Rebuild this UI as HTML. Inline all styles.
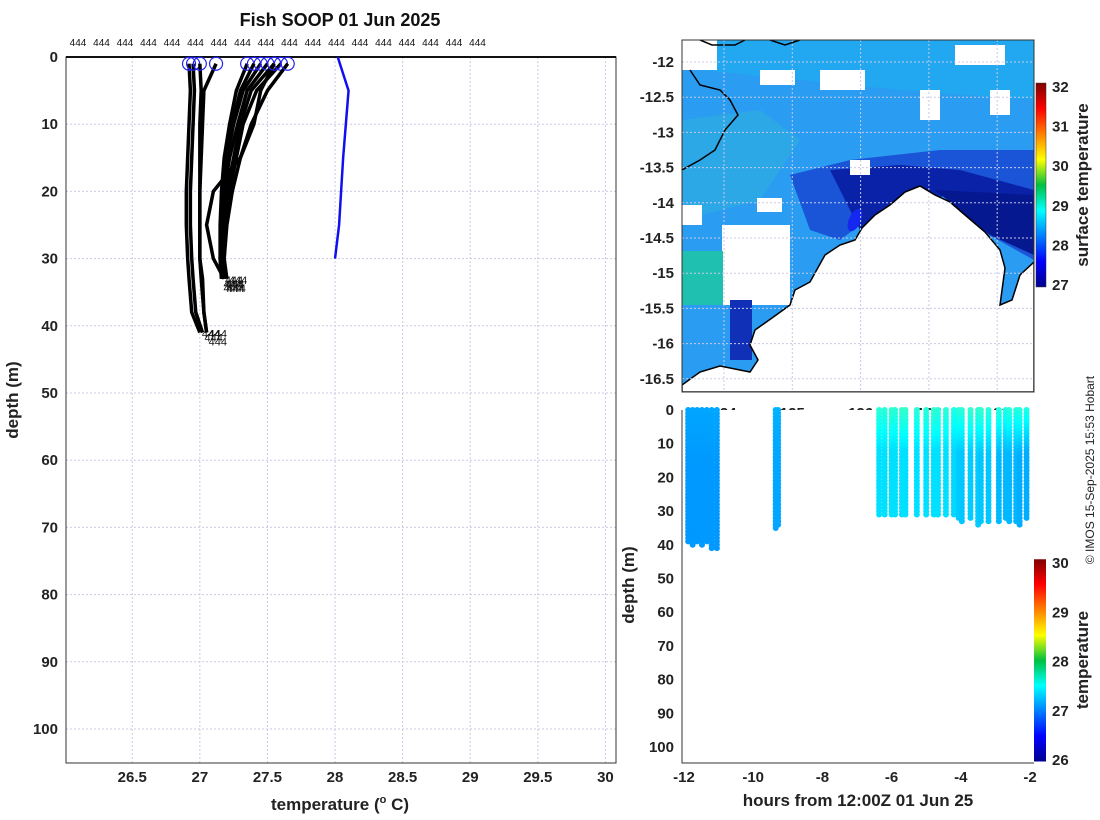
<!DOCTYPE html>
<html><head><meta charset="utf-8"><style>
body{margin:0;background:#fff;}
svg{font-family:"Liberation Sans","DejaVu Sans",sans-serif;display:block}
.tk{font-size:15px;font-weight:bold;fill:#222}
.lb{font-size:17px;font-weight:bold;fill:#222}
</style></head><body>
<svg id="s" width="1100" height="820" xmlns="http://www.w3.org/2000/svg">
<defs>
<linearGradient id="jet" x1="0" y1="1" x2="0" y2="0">
<stop offset="0" stop-color="#00008f"/><stop offset="0.125" stop-color="#0000ff"/><stop offset="0.375" stop-color="#00ffff"/><stop offset="0.5" stop-color="#00c040"/><stop offset="0.625" stop-color="#ffff00"/><stop offset="0.875" stop-color="#ff0000"/><stop offset="1" stop-color="#800000"/>
</linearGradient>
<clipPath id="mapclip"><rect x="682" y="40" width="352" height="352"/></clipPath>
</defs>
<text x="340" y="26" text-anchor="middle" font-size="18" font-weight="bold" fill="#111">Fish SOOP 01 Jun 2025</text>
<g id="left"></g>
<g id="map"></g>
<g id="sect"></g>
<text x="1094" y="470" transform="rotate(-90 1094 470)" text-anchor="middle" font-size="12" fill="#222">© IMOS 15-Sep-2025 15:53 Hobart</text>
</svg>
<script>
const NS="http://www.w3.org/2000/svg";
function mk(p,t,a,txt){const e=document.createElementNS(NS,t);for(const k in a)e.setAttribute(k,a[k]);if(txt!==undefined)e.textContent=txt;p.appendChild(e);return e;}
// ---- data: left profile plot ----
const xTicks=[26.5,27,27.5,28,28.5,29,29.5,30];
const yTicks=[0,10,20,30,40,50,60,70,80,90,100];
const profDepths=[1,5,10,15,20,25,30,33,38,41];
const profTemps=[
[26.92,26.93,26.92,26.91,26.90,26.90,26.91,26.92,26.94,27.00],
[26.95,26.96,26.95,26.94,26.93,26.93,26.94,26.95,26.97,27.02],
[27.00,27.01,27.00,27.00,27.00,27.00,27.00,27.01,27.03,27.05],
[27.12,27.03,27.02,27.01,27.00,27.00,27.00,27.02,27.03,27.05],
[27.35,27.27,27.22,27.18,27.16,27.15,27.15,27.16],
[27.45,27.32,27.25,27.2,27.17,27.16,27.15,27.16],
[27.5,27.35,27.28,27.22,27.18,27.17,27.16,27.17],
[27.55,27.38,27.3,27.25,27.2,27.18,27.17,27.18],
[27.6,27.42,27.32,27.27,27.22,27.19,27.18,27.19],
[27.65,27.5,27.38,27.3,27.24,27.2,27.18,27.2],
[27.4,27.3,27.24,27.2,27.18,27.17,27.16,27.17],
[27.55,27.45,27.4,27.3,27.1,27.05,27.1,27.18]
];
const blueTemps=[28.02,28.1,28.06,28.03,28.0];
const blueDepths=[0,5,15,25,30];
// ---- data: section plot ----
const castHours=[-11.88,-11.75,-11.62,-11.48,-11.34,-11.2,-11.05,-9.35,-9.28,-6.36,-6.2,-6.0,-5.9,-5.7,-5.6,-5.27,-5.0,-4.78,-4.66,-4.43,-4.2,-4.06,-3.97,-3.72,-3.5,-3.42,-3.2,-2.9,-2.7,-2.6,-2.4,-2.3,-2.1];
const castDepths=[39,40,39,40,39,41,41,35,34,31,31,31,31,31,31,31,31,31,31,31,31,32,33,32,34,33,33,33,32,33,33,34,32];
const castSurf=[27.15,27.15,27.15,27.15,27.15,27.15,27.15,27.2,27.2,27.65,27.65,27.7,27.65,27.7,27.7,27.65,27.65,27.7,27.65,27.65,27.6,27.65,27.65,27.7,27.65,27.7,27.65,27.65,27.6,27.65,27.6,27.65,27.6];
const castBot=[27.1,27.1,27.1,27.1,27.1,27.1,27.1,27.15,27.15,27.38,27.38,27.38,27.38,27.38,27.38,27.38,27.38,27.38,27.38,27.38,27.35,27.3,27.28,27.3,27.3,27.28,27.28,27.22,27.22,27.22,27.22,27.18,27.18];
const sHours=[-12,-10,-8,-6,-4,-2];
const latTicks=[-12,-12.5,-13,-13.5,-14,-14.5,-15,-15.5,-16,-16.5];
const lonTicks=[124,125,126,127,128];
const sstTicks=[27,28,29,30,31,32];
const secTicks=[26,27,28,29,30];

function jet(v){v=Math.max(0,Math.min(1,v));const f=(a,b)=>Math.max(0,Math.min(1,Math.min(4*v-a,-4*v+b)));
const r=f(1.5,4.5),g=f(0.5,3.5),b=f(-0.5,2.5);return `rgb(${Math.round(r*255)},${Math.round(g*255)},${Math.round(b*255)})`;}

// left axes
const L=document.getElementById('left');
const X=t=>66+(t-26.01)*(534/3.95), Y=d=>57+d*6.72;
xTicks.forEach(t=>{const l=mk(L,'line',{x1:X(t),x2:X(t),y1:57,y2:763,stroke:'#c9c9e6','stroke-dasharray':'2,2'});
const tx=mk(L,'text',{x:X(t),y:782,'text-anchor':'middle',class:'tk'},String(t));});
yTicks.forEach(d=>{mk(L,'line',{x1:66,x2:616,y1:Y(d),y2:Y(d),stroke:'#c9c9e6','stroke-dasharray':'2,2'});
const tx=mk(L,'text',{x:58,y:Y(d)+5,'text-anchor':'end',class:'tk'},String(d));});
mk(L,'rect',{x:66,y:57,width:550,height:706,fill:'none',stroke:'#333','stroke-width':1});
mk(L,'line',{x1:66,x2:616,y1:57,y2:57,stroke:'#111','stroke-width':2});
for(let i=0;i<18;i++){const t=mk(L,'text',{x:78+i*23.5,y:46,'font-size':10,'text-anchor':'middle',fill:'#111'},'444');}
profTemps.forEach((arr,i)=>{const pts=arr.map((t,j)=>X(t)+','+Y(profDepths[j])).join(' ');
const p=mk(L,'polyline',{points:pts,fill:'none',stroke:'#000','stroke-width':3.5,'stroke-linejoin':'round'});
const c=mk(L,'circle',{cx:X(arr[0]),cy:Y(1),r:6.5,fill:'none',stroke:'#2222ee','stroke-width':1.2});
const n=arr.length-1;const lt=mk(L,'text',{x:X(arr[n])+2,y:Y(profDepths[n])+5+(i%3)*4,'font-size':11,fill:'#111'},'444');});
const bl=mk(L,'polyline',{points:blueTemps.map((t,j)=>X(t)+','+Y(blueDepths[j])).join(' '),fill:'none',stroke:'#1010ee','stroke-width':2.5});
const xt=mk(L,'text',{x:340,y:810,'text-anchor':'middle',class:'lb'});
xt.innerHTML='temperature (<tspan font-size="11" dy="-7">o</tspan><tspan dy="7"> C)</tspan>';
const yt=mk(L,'text',{x:18,y:400,transform:'rotate(-90 18 400)','text-anchor':'middle',class:'lb'},'depth (m)');

// map
const M=document.getElementById('map');
const lonX=l=>724+(l-124)*68.3, latY=a=>62+(-12-a)*70.4;
const g=mk(M,'g',{'clip-path':'url(#mapclip)'});
mk(g,'rect',{x:682,y:40,width:352,height:352,fill:'#2a9cf2'});
mk(g,'polygon',{points:'682,40 1034,40 1034,100 900,90 800,80 700,70',fill:'#22a8f0'});
mk(g,'polygon',{points:'682,120 760,110 800,140 760,200 682,220',fill:'#30b0e0',opacity:0.6});
mk(g,'polygon',{points:'790,175 850,160 940,150 1034,150 1034,260 980,230 940,190 880,210 840,240 810,230',fill:'#1a55d8'});
mk(g,'polygon',{points:'830,170 900,165 960,170 1034,190 1034,255 985,230 950,195 900,205 860,230 845,200',fill:'#0a22a8'});
mk(g,'polygon',{points:'935,190 1034,195 1034,255 990,235',fill:'#061890'});
mk(g,'rect',{x:722,y:225,width:68,height:80,fill:'#fff'});
mk(g,'polygon',{points:'682,251 723,251 723,305 682,305',fill:'#20c0b0'});
mk(g,'polygon',{points:'730,300 752,300 752,360 730,360',fill:'#1030b8'});
[[757,198,25,14],[820,70,45,20],[760,70,35,15],[920,90,20,30],[990,90,20,25],[682,40,35,30],[955,45,50,20],[850,160,20,15],[682,205,20,20]].forEach(r=>mk(g,'rect',{x:r[0],y:r[1],width:r[2],height:r[3],fill:'#fff'}));
const land='682,392 682,385 700,372 720,366 750,372 758,360 750,345 755,330 772,318 790,305 795,290 810,282 825,255 840,245 855,240 862,228 875,215 890,205 905,192 920,186 935,195 950,202 965,215 985,232 1000,250 1005,268 1000,305 1012,300 1020,275 1034,262 1034,392';
mk(g,'polygon',{points:land,fill:'#fff',stroke:'#000','stroke-width':1.5});
mk(g,'path',{d:'M682,170 L700,160 L715,150 L725,130 L738,115 L730,100 L720,90 L700,85 L690,70',fill:'none',stroke:'#000','stroke-width':1.5});
mk(g,'path',{d:'M700,40 L712,45 L735,45 L745,40 M770,40 L785,45 L800,40',fill:'none',stroke:'#000','stroke-width':1.5});
mk(g,'ellipse',{cx:855,cy:220,rx:6,ry:12,fill:'#1428f0',transform:'rotate(25 855 220)'});
lonTicks.forEach(l=>{mk(M,'line',{x1:lonX(l),x2:lonX(l),y1:40,y2:392,stroke:'#c9c9e6','stroke-dasharray':'2,2'});
const t=mk(M,'text',{x:lonX(l),y:418,'text-anchor':'middle',class:'tk'},String(l));});
latTicks.forEach(a=>{mk(M,'line',{x1:682,x2:1034,y1:latY(a),y2:latY(a),stroke:'#c9c9e6','stroke-dasharray':'2,2'});
const t=mk(M,'text',{x:674,y:latY(a)+5,'text-anchor':'end',class:'tk'},String(a));});
mk(M,'rect',{x:682,y:40,width:352,height:352,fill:'none',stroke:'#333'});
const cbY=v=>285-(v-27)*39.6;
const cb=mk(M,'rect',{x:1036,y:cbY(32.1),width:10,height:cbY(26.95)-cbY(32.1),fill:'url(#jet)',stroke:'#333','stroke-width':0.5});
sstTicks.forEach(v=>{const t=mk(M,'text',{x:1052,y:cbY(v)+5,class:'tk','font-size':13},String(v));});
const ct=mk(M,'text',{x:1088,y:185,transform:'rotate(-90 1088 185)','text-anchor':'middle',class:'lb','font-size':15},'surface temperature');

// section
const S=document.getElementById('sect');
const HX=h=>684+(h+12)*34.6, DY=d=>410+d*3.37;
const cY=v=>760-(v-26)*49.2;
mk(S,'rect',{x:682,y:410,width:352,height:353,fill:'#fff'});
sHours.forEach(h=>{const t=mk(S,'text',{x:HX(h),y:782,'text-anchor':'middle',class:'tk'},String(h));});
yTicks.forEach(d=>{const t=mk(S,'text',{x:674,y:DY(d)+5,'text-anchor':'end',class:'tk'},String(d));});
const tn=v=>(v-26)/4;
castHours.forEach((h,i)=>{for(let d=0;d<=castDepths[i];d+=1){const f=d/castDepths[i];const v=castSurf[i]+(castBot[i]-castSurf[i])*Math.min(1,f*2.5);
const c=mk(S,'circle',{cx:HX(h),cy:DY(d),r:3,fill:jet(tn(v))});}});
mk(S,'polyline',{points:'682,410 682,763 1034,763',fill:'none',stroke:'#333'});
const sc=mk(S,'rect',{x:1034,y:cY(30.08),width:12,height:cY(25.97)-cY(30.08),fill:'url(#jet)'});
secTicks.forEach(v=>{const t=mk(S,'text',{x:1052,y:cY(v)+5,class:'tk','font-size':13},String(v));});
const st=mk(S,'text',{x:1088,y:660,transform:'rotate(-90 1088 660)','text-anchor':'middle',class:'lb','font-size':15},'temperature');
const sx=mk(S,'text',{x:858,y:806,'text-anchor':'middle',class:'lb'},'hours from 12:00Z 01 Jun 25');
const sy=mk(S,'text',{x:634,y:585,transform:'rotate(-90 634 585)','text-anchor':'middle',class:'lb'},'depth (m)');
</script>
</body></html>
